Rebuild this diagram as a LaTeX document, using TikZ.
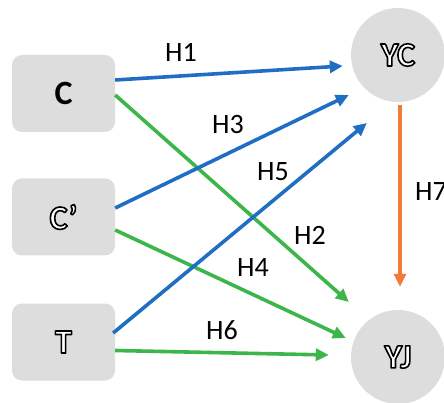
\documentclass[tikz,border=0pt]{standalone}
\usepackage{fontspec}
\setmainfont{Carlito}
\usetikzlibrary{arrows.meta}
\definecolor{fillg}{HTML}{DDDDDD}
\definecolor{hblue}{HTML}{1F6EC4}
\definecolor{hgreen}{HTML}{3CB54A}
\definecolor{horange}{HTML}{F27B3C}
\newcommand\outl[1]{\special{pdf:literal q 2 Tr 1.6 w 1 j 0 0 0 RG 1 1 1 rg}#1\special{pdf:literal 0 Tr Q}}
\tikzset{
  box/.style={fill=fillg, draw=none, rounded corners=10pt, minimum width=103pt, minimum height=77pt, inner sep=0pt, font=\fontsize{34}{36}\selectfont},
  circ/.style={circle, fill=fillg, draw=none, minimum size=94pt, inner sep=0pt, font=\fontsize{34}{36}\selectfont},
  lbl/.style={font=\fontsize{28}{30}\selectfont, inner sep=0pt},
  harrow/.style={line width=3.6pt, -{Triangle[length=13pt,width=12pt]}},
}
\begin{document}
\begin{tikzpicture}[x=1pt,y=-1pt]
\useasboundingbox (0,0) rectangle (444,403);
\node[box] (C) at (63.5,93.5) {\textbf{C}};
\node[box] (Cp) at (63.5,217) {\outl{\textbf{C’}}};
\node[box] (T) at (63.5,342) {\outl{\textbf{T}}};
\node[circ] (YC) at (398,55) {\outl{\textbf{YC}}};
\node[circ] (YJ) at (398,357) {\outl{\textbf{YJ}}};
% arrows
\draw[harrow, hblue] ([shift={(0,-13.5)}]C.east) -- ([shift={(-8,11)}]YC.west);
\draw[harrow, hgreen] ([shift={(0,1.5)}]C.east) -- ([shift={(-2,-55)}]YJ.west);
\draw[harrow, hblue] ([shift={(0,-9)}]Cp.east) -- ([shift={(-2,40)}]YC.west);
\draw[harrow, hgreen] ([shift={(0,13)}]Cp.east) -- ([shift={(-5,-19)}]YJ.west);
\draw[harrow, hblue] ([shift={(-2,-9)}]T.east) -- ([shift={(16,68)}]YC.west);
\draw[harrow, hgreen] ([shift={(0,8.5)}]T.east) -- ([shift={(-22,-2)}]YJ.west);
\draw[harrow, horange] ([shift={(2,3)}]YC.south) -- ([shift={(2,-23)}]YJ.north);
% labels
\node[lbl] (l1) at (181,52) {H1};
\node[lbl] (l3) at (228,125) {H3};
\node[lbl] (l5) at (273,172) {H5};
\node[lbl] (l2) at (310,235) {H2};
\node[lbl] (l4) at (253,268) {H4};
\node[lbl] (l6) at (222,330) {H6};
\node[lbl] (l7) at (431,192) {H7};
\end{tikzpicture}
\end{document}
